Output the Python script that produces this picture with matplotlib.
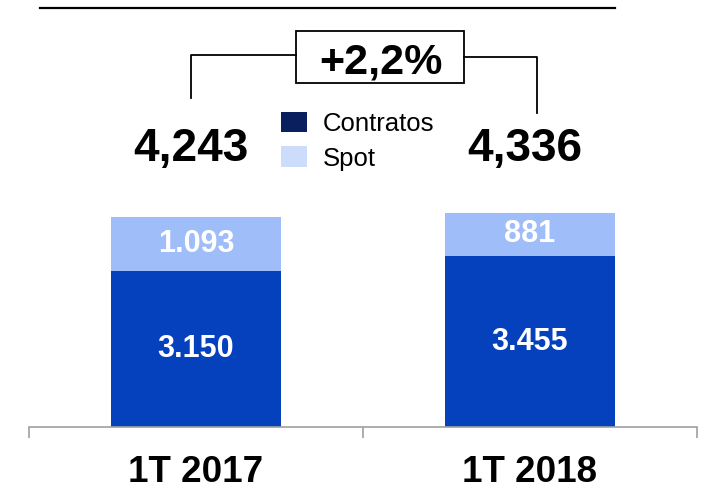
import matplotlib
matplotlib.use("Agg")
import matplotlib.pyplot as plt
from matplotlib.patches import Patch, Rectangle
from matplotlib.lines import Line2D
from matplotlib.transforms import blended_transform_factory

plt.rcParams['font.family'] = ['Liberation Sans', 'DejaVu Sans']

categories = ["1T 2017", "1T 2018"]
contratos = [3150, 3455]
spot = [1093, 881]
contratos_labels = ["3.150", "3.455"]
spot_labels = ["1.093", "881"]
total_labels = ["4,243", "4,336"]
growth_label = "+2,2%"
legend_labels = ["Contratos", "Spot"]

W, H = 705, 490
fig = plt.figure(figsize=(W / 100, H / 100), dpi=100)

def fx(px):
    return px / W

def fy(py):
    return 1 - py / H

ax_left, ax_right, ax_bottom, ax_top = 29, 697, 427, 0
ax = fig.add_axes([fx(ax_left), fy(ax_bottom), fx(ax_right - ax_left), (ax_bottom - ax_top) / H])

c_dark = "#0541BD"
c_light = "#9FBDF8"
x = list(range(len(categories)))
bw = 0.506
ax.bar(x, contratos, width=bw, color=c_dark, linewidth=0)
ax.bar(x, spot, width=bw, bottom=contratos, color=c_light, linewidth=0)

ax.set_xlim(-0.5, 1.5)
ax.set_ylim(0, 8640)

for xi, c, s, cl, sl in zip(x, contratos, spot, contratos_labels, spot_labels):
    ax.text(xi, c / 2, cl, ha="center", va="center", color="white",
            fontsize=22, fontweight="bold")
    ax.text(xi, c + s / 2, sl, ha="center", va="center", color="white",
            fontsize=22, fontweight="bold")

# totals at a common height
tr = blended_transform_factory(ax.transData, ax.transAxes)
for xi, tl in zip(x, total_labels):
    ax.text(xi - 0.015, (ax_bottom - 161) / (ax_bottom - ax_top), tl, transform=tr,
            ha="center", va="baseline", fontsize=33, fontweight="bold", color="black")

# axes styling
for sp in ["left", "right", "top"]:
    ax.spines[sp].set_visible(False)
ax.spines["bottom"].set_color("#A0A0A0")
ax.spines["bottom"].set_linewidth(1.2)
ax.set_yticks([])
ax.set_xticks(x)
ax.set_xticklabels(categories, fontsize=26.5, fontweight="bold")
ax.tick_params(axis="x", which="major", length=0, pad=20)
ax.set_xticks([-0.5, 0.5, 1.5], minor=True)
ax.tick_params(axis="x", which="minor", length=8, width=1.2, color="#A0A0A0", direction="out")

# legend
handles = [Patch(facecolor="#0A1F5E", edgecolor="none"),
           Patch(facecolor="#CCDCFA", edgecolor="none")]
fig.legend(handles, legend_labels, loc="upper left",
           bbox_to_anchor=(fx(281), fy(112)), frameon=False, fontsize=18.5,
           handlelength=1.0, handleheight=0.85, handletextpad=0.62,
           labelspacing=0.4, borderpad=0, borderaxespad=0)

# top rule
fig.add_artist(Line2D([fx(40), fx(615)], [fy(8), fy(8)], color="black", linewidth=1.6))

# growth bracket
lw = 1.3
fig.add_artist(Line2D([fx(191), fx(191), fx(296)], [fy(98), fy(55), fy(55)], color="black", linewidth=lw))
fig.add_artist(Line2D([fx(464), fx(537), fx(537)], [fy(57), fy(57), fy(113)], color="black", linewidth=lw))
fig.add_artist(Rectangle((fx(296), fy(83)), fx(464 - 296), (83 - 31) / H,
                         facecolor="white", edgecolor="black", linewidth=lw,
                         transform=fig.transFigure))
fig.text(fx(381), fy(74), growth_label, ha="center", va="baseline",
         fontsize=31, fontweight="bold", color="black")

fig.savefig("out.png", dpi=100)
